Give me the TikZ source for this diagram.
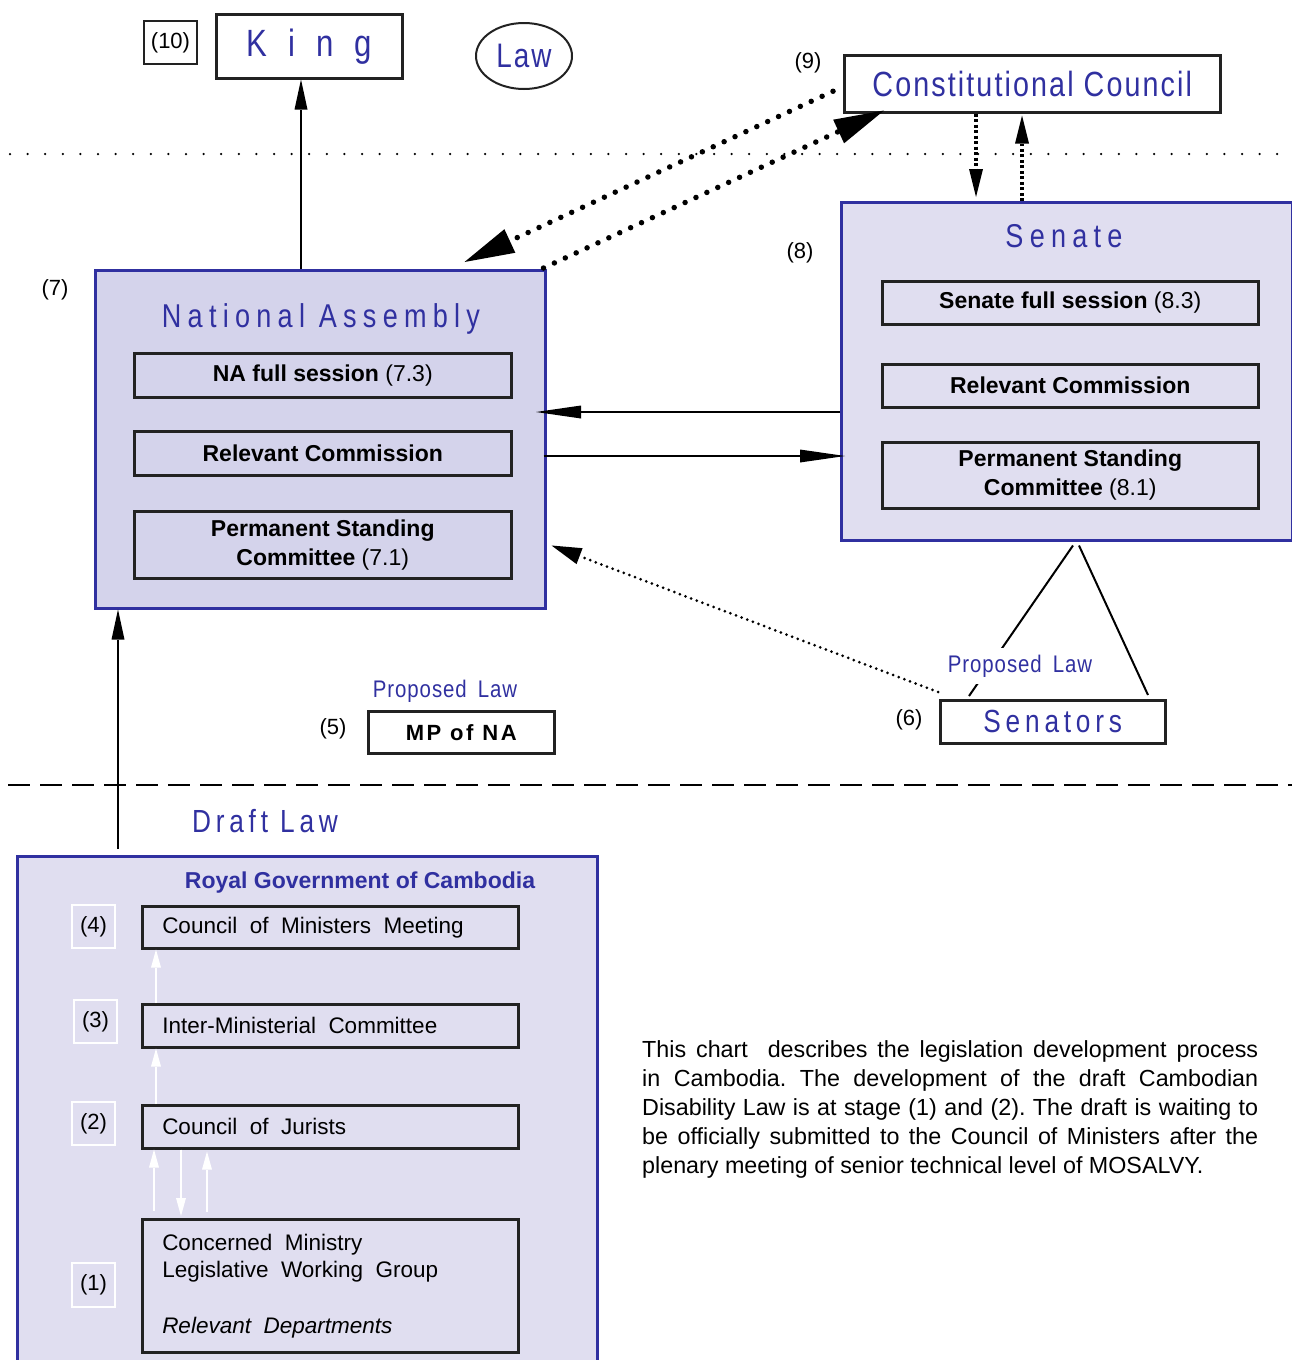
\documentclass[tikz,border=0pt]{standalone}
\usepackage{fontspec}
\setmainfont{Liberation Sans}
\newfontfamily\ttlA[FakeStretch=0.82,LetterSpace=19]{Liberation Sans}
\newfontfamily\ttlB[FakeStretch=0.82,LetterSpace=6]{Liberation Sans}
\newfontfamily\ttlC[FakeStretch=0.85,LetterSpace=4]{Liberation Sans}
\newfontfamily\ttlD[FakeStretch=0.82,LetterSpace=15]{Liberation Sans}
\newcommand\wideA{\spaceskip=12.5pt plus 1pt minus 1pt\relax}
\newcommand\wideB{\spaceskip=11pt\relax}
\usetikzlibrary{arrows.meta,shapes.geometric}
\definecolor{blu}{RGB}{48,48,160}
\definecolor{lavA}{RGB}{212,211,235}
\definecolor{lavB}{RGB}{224,222,240}
\definecolor{ink}{RGB}{34,34,34}
\begin{document}
\begin{tikzpicture}[x=1pt,y=-1pt,
  lav/.style={draw=blu, line width=2.5pt, anchor=north west, inner sep=0pt},
  ibox/.style={draw=ink, line width=2.5pt, anchor=north west, inner sep=0pt, align=center,
     font=\fontsize{23}{29}\selectfont},
  lbox/.style={draw=ink, line width=2.5pt, anchor=north west, inner ysep=0pt, inner xsep=20pt,
     minimum width=376pt, text width=336pt, align=left,
     font={\fontsize{22.5}{27}\selectfont}},
  wbox/.style={draw=white, line width=2pt, anchor=north west, minimum width=43pt,
     minimum height=43pt, inner sep=0pt, font=\fontsize{22}{24}\selectfont},
  lbl/.style={inner sep=0pt, font=\fontsize{22}{24}\selectfont},
  blutitle/.style={inner sep=0pt, text=blu, font=\ttlA\fontsize{33}{36}\selectfont},
  proplaw/.style={inner sep=0pt, text=blu, font={\ttlC\fontsize{24}{26}\selectfont\wideB}},
  arr/.style={line width=2pt, -{Triangle[length=30pt,width=13pt,line width=0pt 0]}},
  harr/.style={line width=2pt, -{Triangle[length=45pt,width=13pt,line width=0pt 0]}},
  bigdot/.style={line width=5.5pt, line cap=round, dash pattern=on 0pt off 12pt,
     -{Triangle[length=50pt,width=26pt,line width=0pt 0]}},
  finedot/.style={line width=3pt, line cap=round, dash pattern=on 0pt off 6pt,
     -{Triangle[length=30pt,width=17pt,line width=0pt 0]}},
  vdot/.style={line width=4pt, dash pattern=on 3pt off 2.5pt,
     -{Triangle[length=28pt,width=14pt,line width=0pt 0]}},
  warr/.style={draw=white, line width=2pt, -{Triangle[length=18pt,width=10pt,line width=0pt 0]}},
  sepdots/.style={line width=2.5pt, line cap=round, dash pattern=on 0pt off 17.6pt},
  sepdash/.style={line width=2.5pt, dash pattern=on 22pt off 10pt}
]
\useasboundingbox (0,0) rectangle (1292,1360);
\clip (0,0) rectangle (1292,1360);

% separators
\draw[sepdots] (10,154) -- (1292,154);
\draw[sepdash] (8,785) -- (1292,785);

% top
\node[draw=ink, line width=2pt, anchor=north west, minimum width=53pt, minimum height=43pt, inner sep=0pt,
  font=\fontsize{22}{24}\selectfont] (n10) at (143,20) {(10)};
\node[draw=ink, line width=2.5pt, anchor=north west, minimum width=186pt, minimum height=64pt, inner sep=0pt,
  text=blu, font=\ttlB\fontsize{38}{40}\selectfont] (king) at (215,13) {\spaceskip=21pt K i n g};
\node[draw=ink, line width=2pt, ellipse, minimum width=96pt, minimum height=66pt, inner sep=0pt,
  text=blu, font=\ttlB\fontsize{34}{36}\selectfont] (law) at (524,56) {Law};
\node[draw=ink, line width=2.5pt, anchor=north west, minimum width=376pt, minimum height=57pt, inner sep=0pt,
  text=blu, font=\ttlB\fontsize{35}{38}\selectfont] (cc) at (843,54) {Constitutional Council};
\node[lbl] (n9) at (808,63) {(9)};

% National Assembly
\node[lav, fill=lavA, minimum width=450pt, minimum height=338pt] (na) at (94,269) {};
\node[blutitle] (natitle) at (321,319) {National Assembly};
\node[lbl] (n7) at (55,290) {(7)};
\node[ibox, minimum width=377pt, minimum height=44pt] (na1) at (133,352) {\textbf{NA full session} (7.3)};
\node[ibox, minimum width=377pt, minimum height=44pt] (na2) at (133,430) {\textbf{Relevant Commission}};
\node[ibox, minimum width=377pt, minimum height=67pt] (na3) at (133,510) {\textbf{Permanent Standing}\\\textbf{Committee} (7.1)};

% Senate
\node[lav, fill=lavB, minimum width=451pt, minimum height=338pt] (sen) at (840,201) {};
\node[blutitle] (sentitle) at (1064,236) {Senate};
\node[lbl] (n8) at (800,253) {(8)};
\node[ibox, minimum width=376pt, minimum height=43pt] (sen1) at (881,280) {\textbf{Senate full session} (8.3)};
\node[ibox, minimum width=376pt, minimum height=43pt] (sen2) at (881,363) {\textbf{Relevant Commission}};
\node[ibox, minimum width=376pt, minimum height=66pt] (sen3) at (881,441) {\textbf{Permanent Standing}\\\textbf{Committee} (8.1)};

% proposers
\node[draw=ink, line width=2.5pt, anchor=north west, minimum width=186pt, minimum height=42pt, inner sep=0pt,
  font={\addfontfeatures{LetterSpace=12}\bfseries\fontsize{22}{24}\selectfont}] (mp) at (367,710) {MP of NA};
\node[proplaw] (pl5) at (445,691) {Proposed Law};
\node[lbl] (n5) at (333,729) {(5)};
\node[draw=ink, line width=2.5pt, anchor=north west, minimum width=225pt, minimum height=43pt, inner sep=0pt,
  text=blu, font=\ttlD\fontsize{32}{34}\selectfont] (senators) at (939,699) {Senators};
\node[lbl] (n6) at (909,720) {(6)};

% Royal Government
\node[blutitle, font=\ttlD\fontsize{32}{34}\selectfont] (draft) at (265,821) {Draft Law};
\node[lav, fill=lavB, minimum width=580pt, minimum height=520pt] (rgc) at (16,855) {};
\node[inner sep=0pt, text=blu, font=\bfseries\fontsize{23}{26}\selectfont] (rgctitle) at (360,883) {Royal Government of Cambodia};
\node[lbox, minimum height=42pt] (cmm) at (141,905) {\wideA Council of Ministers Meeting};
\node[lbox, minimum height=43pt] (imc) at (141,1003) {\wideA Inter-Ministerial Committee};
\node[lbox, minimum height=43pt] (coj) at (141,1104) {\wideA Council of Jurists};
\node[lbox, minimum height=133pt] (cm) at (141,1218) {\wideA Concerned Ministry\\Legislative Working Group\\[29pt]\textit{Relevant Departments}};
\node[wbox] (n4) at (71,904) {(4)};
\node[wbox] (n3) at (73,999) {(3)};
\node[wbox] (n2) at (71,1101) {(2)};
\node[wbox, minimum height=44pt] (n1) at (71,1262) {(1)};

% caption
\node[anchor=north west, inner sep=0pt, text width=616pt, align=justify,
  font={\fontsize{23.3}{29}\selectfont\frenchspacing}] (caption) at (642,1040)
  {This chart\ \ describes the legislation development process\linebreak
   in Cambodia. The development of the draft Cambodian\linebreak
   Disability Law is at stage (1) and (2). The draft is waiting to\linebreak
   be officially submitted to the Council of Ministers after the\linebreak
   plenary meeting of senior technical level of MOSALVY.};

% helper x / y positions
\coordinate (xk) at (301,0);
\coordinate (xr) at (118,0);
\coordinate (xa) at (976,0);
\coordinate (xb) at (1022,0);
\coordinate (hl) at (536,412);
\coordinate (hr) at (845,456);
\coordinate (s1) at (1073,0);
\coordinate (s2) at (969,0);
\coordinate (s3) at (1079,0);
\coordinate (s4) at (1148,0);
\coordinate (w1) at (156,0);
\coordinate (w2) at (154,0);
\coordinate (w3) at (181,0);
\coordinate (w4) at (207,0);

% connectors
\draw[arr] (na.north -| xk) -- (king.south -| xk);
\draw[arr] ([yshift=6pt]rgc.north -| xr) -- (na.south -| xr);
\draw[harr] (sen.west |- hl) -- (hl);
\draw[harr] ([xshift=-3pt]na.east |- hr) -- (hr);
\draw[bigdot] ([xshift=-10pt,yshift=-7.5pt]cc.west) -- ([xshift=-82pt,yshift=7pt]na.north east);
\draw[bigdot] ([xshift=-3pt,yshift=1pt]na.north east) -- ([xshift=41pt,yshift=3pt]cc.south west);
\draw[vdot] (cc.south -| xa) -- ([yshift=4pt]sen.north -| xa);
\draw[vdot] (sen.north -| xb) -- ([yshift=-2pt]cc.south -| xb);
\draw[finedot] ([xshift=-1pt,yshift=7pt]senators.north west) -- ([xshift=5pt,yshift=64pt]na.south east);
\draw[line width=2pt] ([yshift=-4pt]sen.south -| s1) -- ([yshift=3pt]senators.north -| s2);
\draw[line width=2pt] ([yshift=-4pt]sen.south -| s3) -- ([yshift=4pt]senators.north -| s4);
\node[proplaw, fill=white, inner xsep=2pt, inner ysep=7pt] (pl6) at (1020,666) {Proposed Law};

\draw[warr] (imc.north -| w1) -- (cmm.south -| w1);
\draw[warr] (coj.north -| w1) -- (imc.south -| w1);
\draw[warr] ([yshift=7pt]cm.north -| w2) -- (coj.south -| w2);
\draw[warr] (coj.south -| w3) -- ([yshift=2pt]cm.north -| w3);
\draw[warr] ([yshift=6pt]cm.north -| w4) -- ([yshift=-2pt]coj.south -| w4);
\end{tikzpicture}
\end{document}
